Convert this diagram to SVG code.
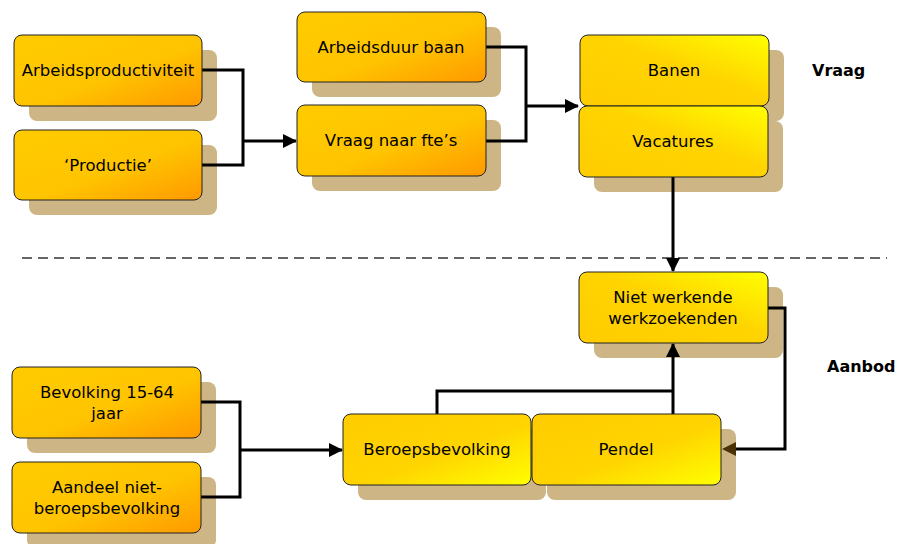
<svg xmlns="http://www.w3.org/2000/svg" width="899" height="544" viewBox="0 0 899 544">
<defs>
<linearGradient id="gOr" x1="0" y1="0" x2="1" y2="1">
<stop offset="0" stop-color="#FFCC00"/>
<stop offset="0.55" stop-color="#FFC400"/>
<stop offset="1" stop-color="#FF9900"/>
</linearGradient>
<linearGradient id="gYtr" x1="0" y1="1" x2="1" y2="0">
<stop offset="0" stop-color="#FFCC00"/>
<stop offset="0.55" stop-color="#FFD400"/>
<stop offset="1" stop-color="#FFFF00"/>
</linearGradient>
<linearGradient id="gYbr" x1="0" y1="0" x2="1" y2="1">
<stop offset="0" stop-color="#FFCC00"/>
<stop offset="0.55" stop-color="#FFD400"/>
<stop offset="1" stop-color="#FFFF00"/>
</linearGradient>
<marker id="arr" viewBox="0 0 14 14" refX="13" refY="7" markerWidth="14" markerHeight="14" markerUnits="userSpaceOnUse" orient="auto">
<path d="M0,0 L14,7 L0,14 Z" fill="#000"/>
</marker>
</defs>
<style>
.sh{fill:#CDB585}
.bx{stroke:#222;stroke-width:1}
.or{fill:url(#gOr)}
.ytr{fill:url(#gYtr)}
.ybr{fill:url(#gYbr)}
.t{font-family:"DejaVu Sans",Verdana,sans-serif;font-size:16.5px;fill:#000;text-anchor:middle}
.lb{font-family:"DejaVu Sans",Verdana,sans-serif;font-size:16px;font-weight:bold;fill:#000}
.c{fill:none;stroke:#000;stroke-width:3}
</style>
<rect width="899" height="544" fill="#fff"/>

<g id="shadows">
<rect class="sh" x="29" y="50" width="188" height="71" rx="8"/>
<rect class="sh" x="29" y="145" width="188" height="70" rx="8"/>
<rect class="sh" x="312" y="27" width="189" height="70" rx="8"/>
<rect class="sh" x="312" y="120" width="189" height="71" rx="8"/>
<rect class="sh" x="595" y="50" width="189" height="71" rx="8"/>
<rect class="sh" x="594" y="121" width="189" height="71" rx="8"/>
<rect class="sh" x="594" y="287" width="189" height="71" rx="8"/>
<rect class="sh" x="27" y="382" width="189" height="71" rx="8"/>
<rect class="sh" x="27" y="477" width="189" height="71" rx="8"/>
<rect class="sh" x="358" y="429" width="188" height="71" rx="8"/>
<rect class="sh" x="547" y="429" width="189" height="71" rx="8"/>
</g>

<line x1="22" y1="258" x2="887" y2="258" stroke="#333" stroke-width="1.3" stroke-dasharray="10,6"/>

<g id="connectors">
<path class="c" d="M202,70 H243 V165 H202"/>
<path class="c" d="M243,141 H296" marker-end="url(#arr)"/>
<path class="c" d="M486,47 H526 V141 H486"/>
<path class="c" d="M526,106 H578" marker-end="url(#arr)"/>
<path class="c" d="M673,177 V271" marker-end="url(#arr)"/>
<path class="c" d="M768,308 H785 V449 H726"/>
<path d="M736,442 L722,449 L736,456 Z" fill="#4A3206"/>
<path class="c" d="M201,402 H240 V497 H201"/>
<path class="c" d="M240,450 H342" marker-end="url(#arr)"/>
<path class="c" d="M437,414 V391 H673"/>
<path class="c" d="M673,414 V344" marker-end="url(#arr)"/>
</g>

<g id="n-arbeidsproductiviteit">
<rect class="bx or" x="14" y="35" width="188" height="71" rx="8"/>
<text class="t" x="108" y="76">Arbeidsproductiviteit</text>
</g>
<g id="n-productie">
<rect class="bx or" x="14" y="130" width="188" height="70" rx="8"/>
<text class="t" x="108" y="171">‘Productie’</text>
</g>
<g id="n-arbeidsduur">
<rect class="bx or" x="297" y="12" width="189" height="70" rx="8"/>
<text class="t" x="391" y="53">Arbeidsduur baan</text>
</g>
<g id="n-vraagfte">
<rect class="bx or" x="297" y="105" width="189" height="71" rx="8"/>
<text class="t" x="391" y="146">Vraag naar fte’s</text>
</g>
<g id="n-banen">
<rect class="bx ytr" x="580" y="35" width="189" height="71" rx="8"/>
<text class="t" x="674" y="76">Banen</text>
</g>
<g id="n-vacatures">
<rect class="bx ytr" x="579" y="106" width="189" height="71" rx="8"/>
<text class="t" x="673" y="147">Vacatures</text>
</g>
<g id="n-nietwerkend">
<rect class="bx ytr" x="579" y="272" width="189" height="71" rx="8"/>
<text class="t" x="673" y="303">Niet werkende</text>
<text class="t" x="673" y="324">werkzoekenden</text>
</g>
<g id="n-bevolking">
<rect class="bx or" x="12" y="367" width="189" height="71" rx="8"/>
<text class="t" x="107" y="398">Bevolking 15-64</text>
<text class="t" x="107" y="419">jaar</text>
</g>
<g id="n-aandeel">
<rect class="bx or" x="12" y="462" width="189" height="71" rx="8"/>
<text class="t" x="107" y="493">Aandeel niet-</text>
<text class="t" x="107" y="514">beroepsbevolking</text>
</g>
<g id="n-beroepsbevolking">
<rect class="bx ybr" x="343" y="414" width="188" height="71" rx="8"/>
<text class="t" x="437" y="455">Beroepsbevolking</text>
</g>
<g id="n-pendel">
<rect class="bx ybr" x="532" y="414" width="189" height="71" rx="8"/>
<text class="t" x="626" y="455">Pendel</text>
</g>

<text class="lb" x="812" y="76">Vraag</text>
<text class="lb" x="827" y="372">Aanbod</text>
</svg>
